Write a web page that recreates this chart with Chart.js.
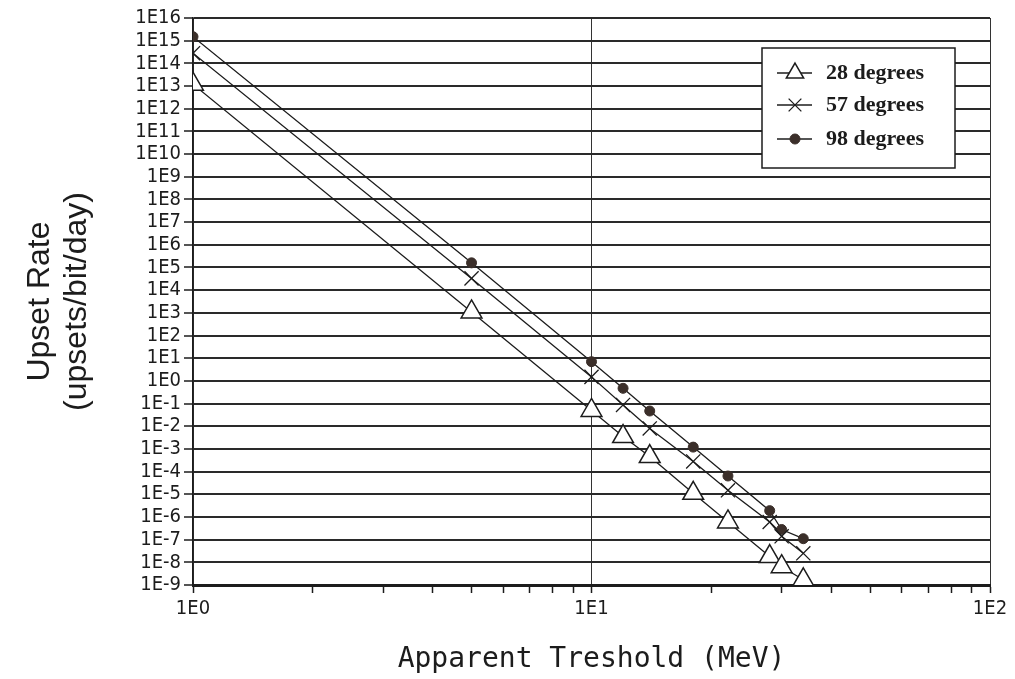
<!DOCTYPE html>
<html>
<head>
<meta charset="utf-8">
<script src="https://cdn.jsdelivr.net/npm/chart.js@4.4.0/dist/chart.umd.min.js"></script>
<style>
  html, body { margin: 0; padding: 0; background: #fff; }
  #wrap { width: 1015px; height: 679px; }
</style>
</head>
<body>
<div id="wrap"><canvas id="upsetChart" width="1015" height="679"></canvas></div>
<script>
// apparent threshold (MeV), shared by the three curves
const thresholds = [1, 5, 10, 12, 14, 18, 22, 28, 30, 34];
// upset rate (upsets/bit/day) per orbit inclination
const rate28 = [1.2e13, 1.1e3, 5e-2, 3.5e-3, 4.6e-4, 1.1e-5, 6e-7, 1.8e-8, 6.4e-9, 1.7e-9];
const rate57 = [2.8e14, 3.3e4, 1.5, 8.7e-2, 8e-3, 2.8e-4, 1.5e-5, 6e-7, 1.4e-7, 2.5e-8];
const rate98 = [1.5e15, 1.6e5, 7, 0.47, 4.7e-2, 1.2e-3, 6.4e-5, 1.9e-6, 2.8e-7, 1.1e-7];
const seriesLabels = ['28 degrees', '57 degrees', '98 degrees'];

// tick marks and labels
const xTickValues = [1, 2, 3, 4, 5, 6, 7, 8, 9, 10, 20, 30, 40, 50, 60, 70, 80, 90, 100];
const xLabelValues = [1, 10, 100];
const xLabelTexts = ['1E0', '1E1', '1E2'];
const yTickLabels = ['1E-9', '1E-8', '1E-7', '1E-6', '1E-5', '1E-4', '1E-3', '1E-2', '1E-1',
  '1E0', '1E1', '1E2', '1E3', '1E4', '1E5', '1E6', '1E7', '1E8', '1E9', '1E10',
  '1E11', '1E12', '1E13', '1E14', '1E15', '1E16'];

const ink = '#1c1c1c';
const tickFont = { family: '"Liberation Sans Narrow", "DejaVu Sans Condensed", sans-serif', size: 20 };

function points(values) {
  return thresholds.map((t, i) => ({ x: t, y: values[i] }));
}

// legend box drawn inside the plot, top right
const boxLegend = {
  id: 'boxLegend',
  afterDraw(chart) {
    const ctx = chart.ctx;
    const left = 762, top = 48, w = 193, h = 120;
    ctx.save();
    ctx.fillStyle = '#fff';
    ctx.fillRect(left, top, w, h);
    ctx.strokeStyle = ink;
    ctx.lineWidth = 1.5;
    ctx.strokeRect(left, top, w, h);
    const rows = [73, 105, 139];
    chart.data.datasets.forEach((ds, i) => {
      const y = rows[i];
      ctx.strokeStyle = ink;
      ctx.lineWidth = 1.5;
      ctx.beginPath();
      ctx.moveTo(777, y);
      ctx.lineTo(812, y);
      ctx.stroke();
      ctx.fillStyle = ds.pointBackgroundColor;
      ctx.strokeStyle = ds.pointBorderColor;
      ctx.lineWidth = ds.pointBorderWidth;
      Chart.helpers.drawPoint(ctx, {
        pointStyle: ds.pointStyle,
        radius: ds.legendRadius,
        rotation: 0,
        borderWidth: ds.pointBorderWidth
      }, 795, y);
      ctx.fillStyle = ink;
      ctx.font = 'bold 22px "Liberation Serif", "DejaVu Serif", serif';
      ctx.textAlign = 'left';
      ctx.textBaseline = 'middle';
      ctx.fillText(ds.label, 826, y);
    });
    ctx.restore();
  }
};

new Chart(document.getElementById('upsetChart'), {
  type: 'scatter',
  data: {
    datasets: [
      {
        label: seriesLabels[0],
        data: points(rate28),
        showLine: true,
        borderColor: ink,
        borderWidth: 1.3,
        pointStyle: 'triangle',
        pointRadius: 12,
        legendRadius: 10,
        pointBackgroundColor: '#fff',
        pointBorderColor: ink,
        pointBorderWidth: 1.5
      },
      {
        label: seriesLabels[1],
        data: points(rate57),
        showLine: true,
        borderColor: ink,
        borderWidth: 1.3,
        pointStyle: 'crossRot',
        pointRadius: 10,
        legendRadius: 9,
        pointBackgroundColor: ink,
        pointBorderColor: ink,
        pointBorderWidth: 1.3
      },
      {
        label: seriesLabels[2],
        data: points(rate98),
        showLine: true,
        borderColor: ink,
        borderWidth: 1.3,
        pointStyle: 'circle',
        pointRadius: 5,
        legendRadius: 5,
        pointBackgroundColor: '#3b2f2a',
        pointBorderColor: '#3b2f2a',
        pointBorderWidth: 1
      }
    ]
  },
  options: {
    responsive: false,
    animation: false,
    layout: { padding: { left: 0, right: 25, top: 18, bottom: 0 } },
    plugins: {
      legend: { display: false },
      tooltip: { enabled: false }
    },
    scales: {
      x: {
        type: 'logarithmic',
        position: 'bottom',
        min: 1,
        max: 100,
        afterBuildTicks: s => { s.ticks = xTickValues.map(v => ({ value: v })); },
        afterFit: s => { s.height = 94; },
        ticks: {
          autoSkip: false,
          maxRotation: 0,
          padding: 4,
          color: ink,
          font: tickFont,
          callback: v => {
            const i = xLabelValues.indexOf(v);
            return i >= 0 ? xLabelTexts[i] : '';
          }
        },
        grid: {
          color: c => (c.tick && xLabelValues.includes(c.tick.value)) ? '#333' : 'rgba(0,0,0,0)',
          lineWidth: 1,
          tickLength: 8,
          tickColor: ink,
          tickWidth: 1.5
        },
        border: { color: ink, width: 3 },
        title: {
          display: true,
          text: 'Apparent Treshold (MeV)',
          color: ink,
          font: { family: '"DejaVu Sans Mono", "Liberation Mono", monospace', size: 28 },
          padding: { top: 0, bottom: 2 }
        }
      },
      y: {
        type: 'logarithmic',
        min: 1e-9,
        max: 1e16,
        afterBuildTicks: s => { s.ticks = yTickLabels.map(l => ({ value: Number(l) })); },
        afterFit: s => { s.width = 193; },
        ticks: {
          autoSkip: false,
          padding: 3,
          color: ink,
          font: tickFont,
          callback: (v, i) => yTickLabels[i]
        },
        grid: {
          color: '#2a2a2a',
          lineWidth: 2,
          tickLength: 9,
          tickColor: ink,
          tickWidth: 1.5
        },
        border: { color: ink, width: 1.5 },
        title: {
          display: true,
          text: ['Upset Rate', '(upsets/bit/day)'],
          color: ink,
          font: { family: '"Liberation Sans", "DejaVu Sans", sans-serif', size: 32, lineHeight: 1.15 },
          padding: { top: 22, bottom: 0 }
        }
      }
    }
  },
  plugins: [boxLegend]
});
</script>
</body>
</html>
